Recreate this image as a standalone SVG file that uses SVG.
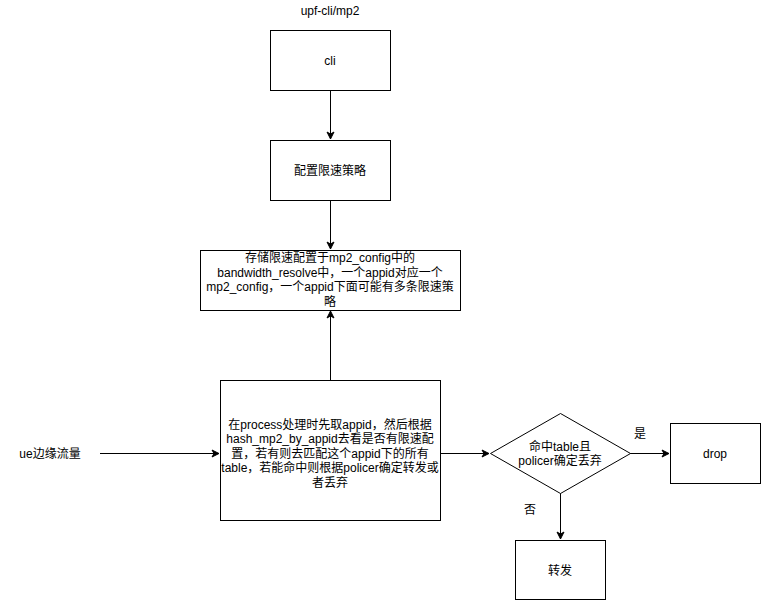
<svg xmlns="http://www.w3.org/2000/svg" width="761" height="601" viewBox="0 0 761 601">
<defs>
<marker id="arr" markerWidth="10" markerHeight="10" refX="8" refY="5" orient="auto" markerUnits="userSpaceOnUse">
<path d="M1,1.5 L8,5 L1,8.5 L3,5 Z" fill="#000" stroke="#000" stroke-width="1"/>
</marker>
<style>
.box{fill:#fff;stroke:#000;stroke-width:1}
.t{font-family:"Liberation Sans","Noto Sans CJK SC",Arial,sans-serif;font-size:12px;fill:#000;text-anchor:middle}
.e{fill:none;stroke:#000;stroke-width:1;marker-end:url(#arr)}
</style>
</defs>
<rect width="761" height="601" fill="#fff"/>
<text class="t" x="330" y="15">upf-cli/mp2</text>
<g id="edges">
<path class="e" d="M330.5,90 L330.5,139"/>
<path class="e" d="M330.5,200 L330.5,249"/>
<path class="e" d="M330.5,380 L330.5,311"/>
<path class="e" d="M100,453.5 L219,453.5"/>
<path class="e" d="M440,453.5 L489,453.5"/>
<path class="e" d="M630,453.5 L669,453.5"/>
<path class="e" d="M560.5,493 L560.5,539"/>
</g>
<g id="cli"><rect class="box" x="270.5" y="30.5" width="120" height="60"/><text class="t" x="330" y="64.5">cli</text></g>
<g id="config"><rect class="box" x="270.5" y="140.5" width="120" height="60"/><text class="t" x="330" y="174.5">配置限速策略</text></g>
<g id="store"><rect class="box" x="200.5" y="250.5" width="260" height="60"/>
<text class="t" x="330" y="262">存储限速配置于mp2_config中的</text>
<text class="t" x="330" y="276.5">bandwidth_resolve中，一个appid对应一个</text>
<text class="t" x="330" y="291">mp2_config，一个appid下面可能有多条限速策</text>
<text class="t" x="330" y="305.5">略</text></g>
<g id="process"><rect class="box" x="220.5" y="380.5" width="220" height="140"/>
<text class="t" x="330" y="428.5">在process处理时先取appid，然后根据</text>
<text class="t" x="330" y="443">hash_mp2_by_appid去看是否有限速配</text>
<text class="t" x="330" y="457.5">置，若有则去匹配这个appid下的所有</text>
<text class="t" x="330" y="472">table，若能命中则根据policer确定转发或</text>
<text class="t" x="330" y="486.5">者丢弃</text></g>
<g id="ue"><text class="t" x="50" y="457.5">ue边缘流量</text></g>
<g id="decision"><path class="box" d="M560.5,413.5 L630.5,453.5 L560.5,493.5 L490.5,453.5 Z"/>
<text class="t" x="560" y="450.5">命中table且</text>
<text class="t" x="560" y="465">policer确定丢弃</text></g>
<g id="drop"><rect class="box" x="670.5" y="423.5" width="90" height="60"/><text class="t" x="715" y="457.5">drop</text></g>
<g id="forward"><rect class="box" x="515.5" y="540.5" width="90" height="59"/><text class="t" x="560" y="574.5">转发</text></g>
<text class="t" x="640" y="438">是</text>
<text class="t" x="530" y="514">否</text>
</svg>
